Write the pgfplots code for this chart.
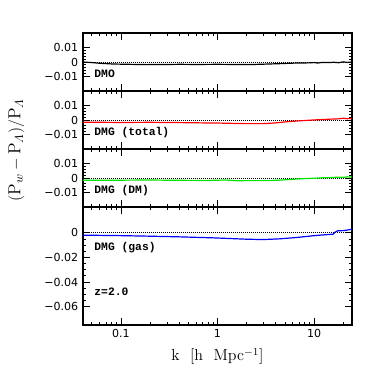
\documentclass[border=0pt]{standalone}
\usepackage{amsmath}
\usepackage{fontspec}
\usepackage{pgfplots}
\pgfplotsset{compat=1.18}
\newfontfamily\tickfont{DejaVu Sans}
\newfontfamily\panelfont{Liberation Mono}
\definecolor{dmgreen}{RGB}{0,230,0}

\pgfplotsset{
  wpanel/.style={
    scale only axis, width=201.75pt, height=43.5pt,
    xmin=0.0405, xmax=24.7,
    xtick={0.1,1,10}, xticklabels={},
    minor xtick={0.05,0.06,0.07,0.08,0.09,0.2,0.3,0.4,0.5,0.6,0.7,0.8,0.9,2,3,4,5,6,7,8,9,20},
    scaled y ticks=false,
    tick align=inside, xtick pos=both, ytick pos=both,
    major tick length=5.25pt, minor tick length=2.6pt,
    axis line style={line width=0.8pt},
    tick style={black, line width=0.6pt},
    ticklabel style={font=\tickfont\fontsize{8.3}{9}\selectfont},
  },
}
\tikzset{
  zline/.style={black, densely dotted, line width=0.5pt},
  wcurve/.style={line width=0.9pt},
  plab/.style={anchor=west, font=\panelfont\bfseries\fontsize{8.5}{9}\selectfont},
}

\begin{document}
\begin{tikzpicture}
% DMO
\begin{semilogxaxis}[wpanel, name=p1, ymin=-0.02, ymax=0.02,
  ytick={-0.01,0,0.01}, yticklabels={−0.01,0,0.01}, minor y tick num=4]
\addplot[zline, forget plot] coordinates {(0.0405,0) (24.7,0)};
\addplot[wcurve, black, no marks] coordinates {
(0.0405,0) (0.05,-0.0004) (0.061,-0.0009) (0.084,-0.0014) (0.12,-0.0016)
(0.186,-0.0018) (0.3,-0.0017) (0.41,-0.0016) (0.6,-0.0017) (1.0,-0.0016)
(1.5,-0.0017) (2.08,-0.0018) (3.0,-0.0015) (4.6,-0.0011) (6,-0.0008)
(8.7,-0.0006) (10,-0.0004) (11,-0.0007) (12,-0.0003) (14,-0.0004)
(16,-0.0002) (18,-0.0005) (20,0.0001) (22,-0.0003) (24.7,0)};
\node[plab] at (rel axis cs:0.025,0.3) {DMO};
\end{semilogxaxis}
% DMG (total)
\begin{semilogxaxis}[wpanel, name=p2, at={(p1.south west)}, anchor=north west,
  ymin=-0.02, ymax=0.02,
  ytick={-0.01,0,0.01}, yticklabels={−0.01,0,0.01}, minor y tick num=4]
\addplot[zline, forget plot] coordinates {(0.0405,0) (24.7,0)};
\addplot[wcurve, red, no marks] coordinates {
(0.0405,-0.0015) (0.1,-0.0017) (0.2,-0.0016) (0.41,-0.0018) (0.7,-0.002)
(1.0,-0.0021) (1.35,-0.0023) (2,-0.0025) (3,-0.0025) (4,-0.002)
(5.2,-0.0012) (7,-0.0006) (9.8,0) (12,0.0003) (15,0.0006) (18,0.0008)
(20,0.0012) (22,0.0009) (24.7,0.0011)};
\node[plab] at (rel axis cs:0.025,0.28) {DMG (total)};
\end{semilogxaxis}
% DMG (DM)
\begin{semilogxaxis}[wpanel, name=p3, at={(p2.south west)}, anchor=north west,
  ymin=-0.02, ymax=0.02,
  ytick={-0.01,0,0.01}, yticklabels={−0.01,0,0.01}, minor y tick num=4]
\addplot[zline, forget plot] coordinates {(0.0405,0) (24.7,0)};
\addplot[wcurve, dmgreen, no marks] coordinates {
(0.0405,-0.0015) (0.1,-0.0015) (0.2,-0.0014) (0.41,-0.0016) (0.8,-0.0017)
(1.2,-0.0014) (1.6,-0.0019) (2,-0.0018) (3,-0.0018) (4.4,-0.0015)
(6,-0.0009) (8,-0.0004) (9.8,-0.0002) (12,0.0001) (15,0.0003)
(18,0.0006) (20,0.0004) (22,0.0008) (24.7,0.0007)};
\node[plab] at (rel axis cs:0.025,0.29) {DMG (DM)};
\end{semilogxaxis}
% DMG (gas)
\begin{semilogxaxis}[wpanel, name=p4, at={(p3.south west)}, anchor=north west,
  height=88.5pt, ymin=-0.075, ymax=0.021,
  xticklabels={0.1,1,10},
  ytick={-0.06,-0.04,-0.02,0}, yticklabels={−0.06,−0.04,−0.02,0},
  minor y tick num=3]
\addplot[zline, forget plot] coordinates {(0.0405,0) (24.7,0)};
\addplot[wcurve, blue, no marks] coordinates {
(0.0405,-0.0019) (0.1,-0.0023) (0.186,-0.0027) (0.41,-0.0033) (0.9,-0.0041)
(1.4,-0.0047) (2.0,-0.0052) (2.97,-0.0055) (4.4,-0.0049) (6.6,-0.0038)
(9.8,-0.0024) (12,-0.0018) (15.7,-0.0011) (16.5,0.0005) (17.5,0.0016)
(20,0.0018) (22,0.0022) (24.7,0.003)};
\node[plab] at (rel axis cs:0.025,0.66) {DMG (gas)};
\node[plab] at (rel axis cs:0.025,0.28) {z=2.0};
\end{semilogxaxis}
\node[rotate=90, font=\fontsize{13}{15}\selectfont] at ([xshift=-50pt,yshift=-88pt]p1.north west)
  {$(\mathrm{P}_{w}-\mathrm{P}_{\varLambda})/\mathrm{P}_{\varLambda}$};
\node[font=\fontsize{12}{14}\selectfont] at ([yshift=-23.6pt]p4.south)
  {k\ \ [h\ \ Mpc$^{-1}$]};
\pgfresetboundingbox
\path[use as bounding box] ([xshift=-62.25pt,yshift=24.75pt]p1.north west)
  rectangle ([xshift=24pt,yshift=-44.25pt]p4.south east);
\end{tikzpicture}
\end{document}
